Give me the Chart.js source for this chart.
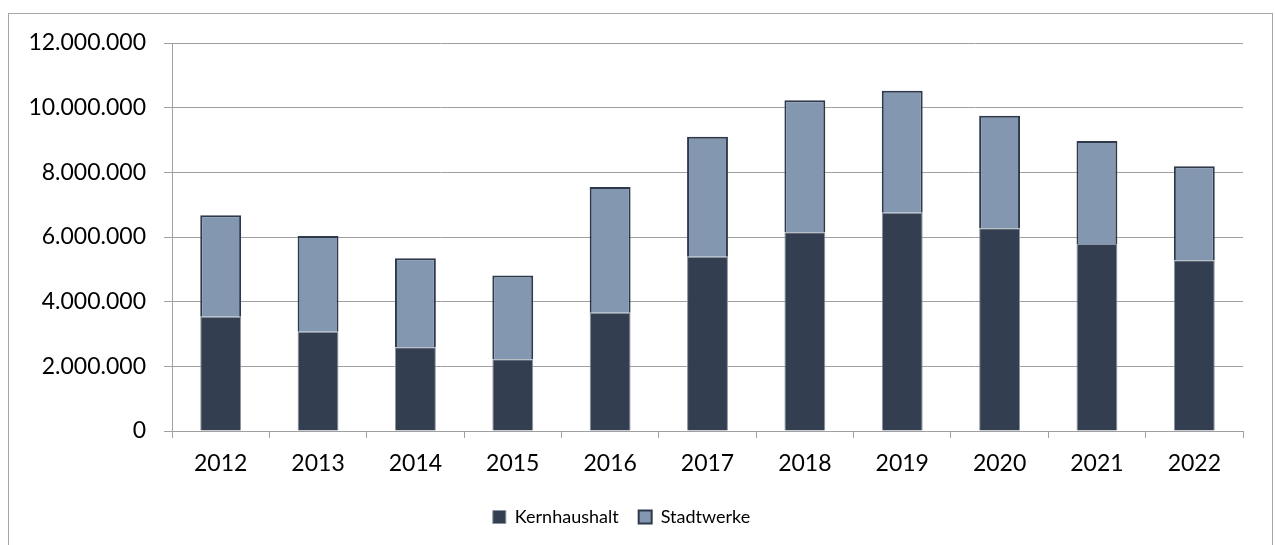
<!DOCTYPE html>
<html lang="de">
<head>
    <meta charset="UTF-8">
    <title>Kernhaushalt und Stadtwerke</title>
    <script src="https://cdn.jsdelivr.net/npm/chart.js"></script>
    <style>
        html, body { margin: 0; padding: 0; background: #fff; }
        #wrap { width: 1275px; height: 545px; }
    </style>
</head>
<body>
    <div id="wrap"><canvas id="chart" width="1275" height="545"></canvas></div>
    <script>
        // Daten
        const years = ['2012', '2013', '2014', '2015', '2016', '2017', '2018', '2019', '2020', '2021', '2022'];
        const kernhaushalt = [3530000, 3070000, 2590000, 2220000, 3660000, 5390000, 6150000, 6750000, 6270000, 5780000, 5280000];
        const stadtwerke = [3140000, 2960000, 2750000, 2590000, 3890000, 3710000, 4080000, 3770000, 3480000, 3190000, 2910000];
        const yMax = 12000000;
        const yStep = 2000000;

        const fontFamily = 'Lato, "Open Sans", sans-serif';

        function formatDe(v) {
            return String(Math.round(v)).replace(/\B(?=(\d{3})+(?!\d))/g, '.');
        }

        // Rahmen um das Diagramm
        const framePlugin = {
            id: 'frame',
            beforeDraw(chart) {
                const ctx = chart.ctx;
                ctx.save();
                ctx.strokeStyle = '#a6a6a6';
                ctx.lineWidth = 1;
                ctx.strokeRect(8.5, 13.5, 1264, 600);
                ctx.restore();
            }
        };

        const ctx = document.getElementById('chart').getContext('2d');
        new Chart(ctx, {
            type: 'bar',
            data: {
                labels: years,
                datasets: [{
                    label: 'Kernhaushalt',
                    data: kernhaushalt,
                    backgroundColor: '#333F50',
                    borderColor: '#8a93a0',
                    borderWidth: 1
                }, {
                    label: 'Stadtwerke',
                    data: stadtwerke,
                    backgroundColor: '#8497B0',
                    borderColor: '#2e3a4c',
                    borderWidth: 2
                }]
            },
            options: {
                responsive: false,
                animation: false,
                layout: {
                    padding: { left: 0, right: 32, top: 43, bottom: 9 }
                },
                datasets: {
                    bar: { categoryPercentage: 1, barPercentage: 0.42 }
                },
                scales: {
                    x: {
                        stacked: true,
                        afterFit(axis) { axis.height = 57; },
                        grid: {
                            offset: true,
                            drawOnChartArea: false,
                            color: '#a0a0a0',
                            tickLength: 7
                        },
                        border: { color: '#a0a0a0' },
                        ticks: {
                            color: '#000',
                            padding: 12,
                            font: { family: fontFamily, size: 23 }
                        }
                    },
                    y: {
                        stacked: true,
                        min: 0,
                        max: yMax,
                        afterFit(axis) { axis.width = 172; },
                        grid: {
                            color: '#a0a0a0',
                            tickLength: 8
                        },
                        border: { color: '#a0a0a0' },
                        ticks: {
                            stepSize: yStep,
                            color: '#000',
                            padding: 18,
                            font: { family: fontFamily, size: 23 },
                            callback: (v) => formatDe(v)
                        }
                    }
                },
                plugins: {
                    legend: {
                        position: 'bottom',
                        labels: {
                            boxWidth: 13,
                            boxHeight: 13,
                            padding: 20,
                            color: '#000',
                            font: { family: fontFamily, size: 18 }
                        }
                    },
                    tooltip: { enabled: false }
                }
            },
            plugins: [framePlugin]
        });
    </script>
</body>
</html>
